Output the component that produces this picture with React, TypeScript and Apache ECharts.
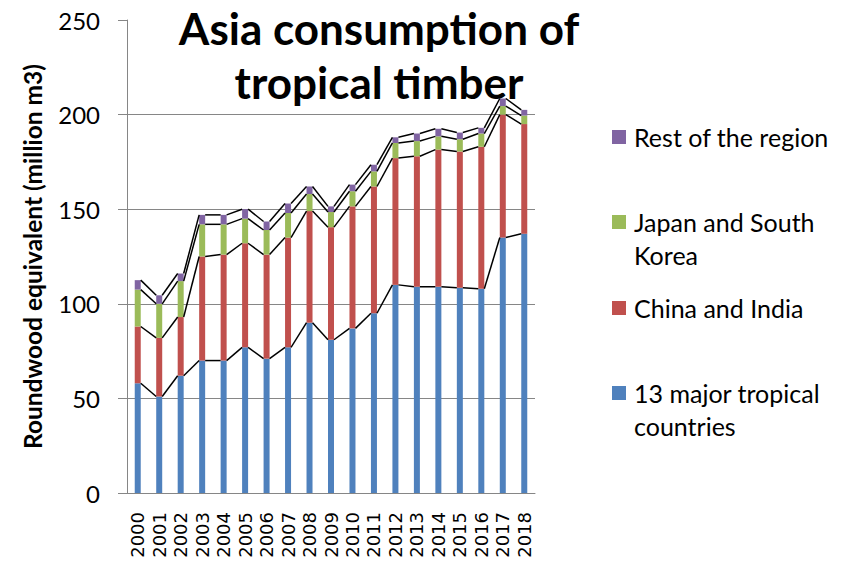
import React, { useEffect, useRef } from "react";
import * as echarts from "echarts";

const years = ["2000","2001","2002","2003","2004","2005","2006","2007","2008","2009","2010","2011","2012","2013","2014","2015","2016","2017","2018"];
const tropical13 = [58, 51, 62, 70, 70, 77, 71, 77, 90, 81, 87, 95, 110, 109, 109, 108.5, 108, 135, 137];
const chinaIndia = [30, 31, 31, 55, 56, 55, 55, 58, 59, 59.5, 64.5, 67, 67, 69, 72.5, 72, 75, 65, 58];
const japanKorea = [19.5, 18, 19, 17, 16, 13, 13, 13, 9, 8, 8, 8, 8, 8, 7, 6.5, 7, 4.5, 4.5];
const restRegion = [5, 4.5, 4, 5, 5, 5, 4.5, 5, 4, 3, 3.5, 3.5, 3, 4, 4, 3.5, 3, 4, 3];
const yTicks = [0, 50, 100, 150, 200, 250];

const seriesNames = ["13 major tropical countries", "China and India", "Japan and South Korea", "Rest of the region"];
const legendLabels = ["13 major tropical\ncountries", "China and India", "Japan and South\nKorea", "Rest of the region"];
const colors = ["#4F81BD", "#C0504D", "#9BBB59", "#8064A2"];

const FONT = "Lato";

export default function App() {
  const ref = useRef<HTMLDivElement>(null);
  useEffect(() => {
    if (!ref.current) return;
    const chart = echarts.init(ref.current, null, { renderer: "svg" });
    const data = [tropical13, chinaIndia, japanKorea, restRegion];
    const cums: number[][] = [];
    let run = years.map(() => 0);
    data.forEach((arr) => {
      run = run.map((v, i) => v + arr[i]);
      cums.push(run.slice());
    });
    const hw = 3;
    const legendCenters = [393, 308, 222, 137];
    const lh = 33;
    const graphic: any[] = [];
    legendLabels.forEach((label, k) => {
      const cy = legendCenters[k];
      graphic.push({
        type: "rect",
        shape: { x: 612, y: cy - 7, width: 14, height: 14 },
        style: { fill: colors[k] },
      });
      graphic.push({
        type: "text",
        x: 634,
        y: cy - lh / 2,
        style: {
          text: label,
          fontFamily: FONT,
          fontSize: 25,
          lineHeight: lh,
          verticalAlign: "top",
          fill: "#000",
        },
      });
    });
    chart.setOption({
      animation: false,
      title: {
        text: "Asia consumption of\ntropical timber",
        left: 374,
        top: -4,
        textAlign: "center",
        textStyle: { fontFamily: FONT, fontWeight: "bold", fontSize: 44, lineHeight: 54, color: "#000" },
      },
      grid: { left: 127, right: 307, top: 20, bottom: 72 },
      xAxis: {
        type: "category",
        data: years,
        axisLine: { lineStyle: { color: "#868686", width: 1 } },
        axisTick: { show: false },
        axisLabel: { rotate: 90, margin: 19, color: "#000", fontFamily: "DejaVu Sans", fontSize: 18, interval: 0 },
      },
      yAxis: {
        type: "value",
        min: yTicks[0],
        max: yTicks[yTicks.length - 1],
        interval: 50,
        name: "Roundwood equivalent (million m3)",
        nameLocation: "middle",
        nameGap: 82,
        nameTextStyle: { fontFamily: FONT, fontWeight: "bold", fontSize: 24.5, color: "#000" },
        axisLine: { show: true, lineStyle: { color: "#868686", width: 1 } },
        axisTick: { show: true, length: 9, lineStyle: { color: "#868686" } },
        axisLabel: { margin: 27, color: "#000", fontFamily: FONT, fontSize: 24 },
        splitLine: { show: true, showMaxLine: false, lineStyle: { color: "#868686", width: 1 } },
      },
      series: [
        ...data.map((arr, k) => ({
          type: "bar",
          name: seriesNames[k],
          stack: "total",
          barWidth: 6,
          data: arr,
          itemStyle: { color: colors[k] },
        })),
        {
          type: "custom",
          name: "series lines",
          z: 5,
          data: years.slice(0, -1).map((_, i) => [i, cums[3][i]]),
          encode: { x: 0, y: 1 },
          renderItem: (params: any, api: any) => {
            const i = api.value(0);
            return {
              type: "group",
              children: cums.map((c) => {
                const a = api.coord([i, c[i]]);
                const b = api.coord([i + 1, c[i + 1]]);
                return {
                  type: "line",
                  shape: { x1: a[0] + hw, y1: a[1], x2: b[0] - hw, y2: b[1] },
                  style: { stroke: "#000", lineWidth: 1.5 },
                };
              }),
            };
          },
        },
      ],
      graphic,
    });
    return () => chart.dispose();
  }, []);
  return <div ref={ref} style={{ position: "absolute", left: 0, top: 0, width: 842, height: 565 }} />;
}
